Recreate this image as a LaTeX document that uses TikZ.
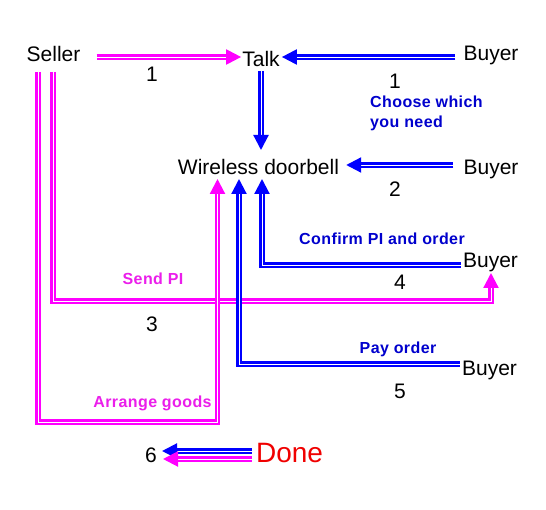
\documentclass[tikz,border=0pt]{standalone}
\usepackage{fontspec}
\setmainfont{Liberation Sans}
\newfontfamily\labfont[LetterSpace=2.5]{Liberation Sans}
\usetikzlibrary{arrows.meta,calc}
\definecolor{pk}{RGB}{255,0,255}
\definecolor{bl}{RGB}{0,0,255}
\definecolor{lblblue}{RGB}{0,0,205}
\definecolor{lblpink}{RGB}{235,30,235}
\definecolor{donered}{RGB}{240,0,0}
\begin{document}
\begin{tikzpicture}[x=1pt,y=-1pt,
  txt/.style={inner sep=0pt, anchor=base, font=\fontsize{21}{25}\selectfont},
  lab/.style={inner sep=0pt, anchor=base, font=\labfont\fontsize{16}{20}\selectfont\bfseries},
  conn/.style={line width=2.2pt, double=white, double distance=0.9pt, -{Triangle[width=15pt,length=15pt]}},
  pinkconn/.style={conn, draw=pk},
  blueconn/.style={conn, draw=bl},
]
\useasboundingbox (0,0) rectangle (546,510);
\fill[white] (0,0) rectangle (546,510);

% main nodes
\node[txt] (seller) at (53.5,62) {Seller};
\node[txt] (talk) at (261,67) {Talk};
\node[txt] (buyerA) at (491,61) {Buyer};
\node[txt] (bell) at (258.5,175) {Wireless doorbell};
\node[txt] (buyerB) at (491,175) {Buyer};
\node[txt] (buyerC) at (490.5,268) {Buyer};
\node[txt] (buyerD) at (489.5,376) {Buyer};
\node[txt, text=donered, font=\fontsize{28}{32}\selectfont] (done) at (289.5,462) {Done};

% numbers
\node[txt] (n1a) at (152,82) {1};
\node[txt] (n1b) at (395,89) {1};
\node[txt] (n2) at (395,197) {2};
\node[txt] (n3) at (152,332) {3};
\node[txt] (n4) at (400,290) {4};
\node[txt] (n5) at (400,398) {5};
\node[txt] (six) at (151,462) {6};

% labels
\node[lab, text=lblblue, anchor=base west, align=left] (choose) at (370,128) {Choose which\\you need};
\node[lab, text=lblblue] (confirm) at (382,245) {Confirm PI and order};
\node[lab, text=lblpink] (sendpi) at (153,285) {Send PI};
\node[lab, text=lblblue] (payorder) at (398,354) {Pay order};
\node[lab, text=lblpink] (arrange) at (152.5,407) {Arrange goods};

% connectors
\draw[pinkconn] ($(seller.base)+(-0.5,10)$) -- ++(0,229) -| ($(buyerC.base)+(0.5,5)$);
\draw[pinkconn] ($(seller.base)+(-15.5,10)$) -- ++(0,350) -| ($(bell.base)+(-41,4)$);
\draw[blueconn] ($(buyerC.base west)+(-2,-3)$) -| ($(bell.base)+(3.5,4)$);
\draw[blueconn] ($(buyerD.base west)+(-2,-12)$) -| ($(bell.base)+(-19.5,4)$);
\draw[pinkconn] ($(seller.base east)+(16,-5)$) -- ($(talk.base west)+(-1,-10)$);
\draw[blueconn] ($(buyerA.base west)+(-8,-4)$) -- ($(talk.base east)+(2,-10)$);
\draw[blueconn] ($(talk.base)+(0,4)$) -- ($(bell.base)+(2.5,-25)$);
\draw[blueconn] ($(buyerB.base west)+(-10,-10)$) -- ($(bell.base east)+(7,-10)$);
\draw[blueconn] ($(done.base west)+(-4,-11)$) -- ($(six.base east)+(5,-11)$);
\draw[pinkconn] ($(done.base west)+(-4,-3)$) -- ($(six.base east)+(6,-3)$);
\end{tikzpicture}
\end{document}
